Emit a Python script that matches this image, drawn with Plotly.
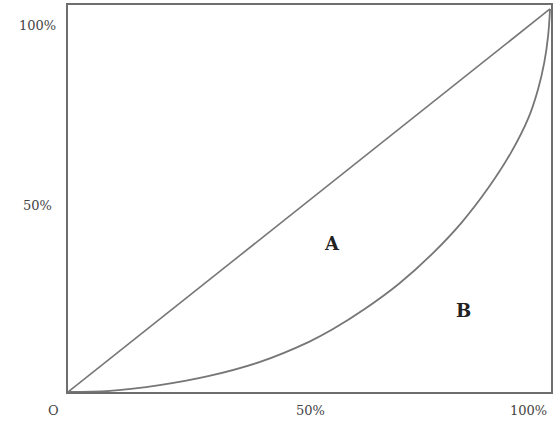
import plotly.graph_objects as go

# Lorenz curve (cumulative share of population vs cumulative share of income)
pop_share = [0, 0.087, 0.190, 0.293, 0.397, 0.500, 0.548, 0.617, 0.686, 0.755, 0.817,
             0.872, 0.919, 0.955, 0.975, 0.988, 0.996, 1.0]
income_share = [0, 0.003, 0.018, 0.042, 0.078, 0.131, 0.163, 0.218, 0.282, 0.360, 0.443,
                0.533, 0.625, 0.715, 0.790, 0.860, 0.930, 1.0]

# Line of equality
eq_x = [0, 1]
eq_y = [0, 1]

# Axis labels (paper coordinates)
y_tick_labels = ["100%", "50%"]
y_tick_pos = [0.948, 0.483]
x_tick_labels = ["O", "50%", "100%"]
x_tick_pos = [-0.029, 0.503, 0.953]

# Region labels
region_labels = ["A", "B"]
region_x = [0.548, 0.820]
region_y = [0.389, 0.214]

fig = go.Figure()
fig.add_trace(go.Scatter(x=eq_x, y=eq_y, mode="lines",
                         line=dict(color="#767676", width=1.6), showlegend=False, hoverinfo="skip"))
fig.add_trace(go.Scatter(x=pop_share, y=income_share, mode="lines", line_shape="spline",
                         line=dict(color="#767676", width=1.8, smoothing=1.0),
                         showlegend=False, hoverinfo="skip"))

serif = "DejaVu Serif, Liberation Serif, serif"
annotations = []
for t, yv in zip(y_tick_labels, y_tick_pos):
    annotations.append(dict(x=-0.063, y=yv, xref="paper", yref="paper", text=t, showarrow=False,
                            xanchor="center", yanchor="middle",
                            font=dict(family=serif, size=13, color="#444")))
for t, xv in zip(x_tick_labels, x_tick_pos):
    annotations.append(dict(x=xv, y=-0.047, xref="paper", yref="paper", text=t, showarrow=False,
                            xanchor="center", yanchor="middle",
                            font=dict(family=serif, size=13, color="#444")))
for t, xv, yv in zip(region_labels, region_x, region_y):
    annotations.append(dict(x=xv, y=yv, xref="x", yref="y", text="<b>" + t + "</b>", showarrow=False,
                            xanchor="center", yanchor="middle",
                            font=dict(family=serif, size=18, color="#222")))

fig.update_layout(
    width=555, height=423,
    margin=dict(l=68, r=2, t=5, b=31),
    paper_bgcolor="white", plot_bgcolor="white",
    annotations=annotations,
    xaxis=dict(range=[0, 1.002], showgrid=False, zeroline=False, showticklabels=False, ticks="",
               showline=True, mirror=True, linecolor="#6e6e6e", linewidth=2),
    yaxis=dict(range=[0, 1.0104], showgrid=False, zeroline=False, showticklabels=False, ticks="",
               showline=True, mirror=True, linecolor="#6e6e6e", linewidth=2),
)

fig.write_html("out.html", config={"displayModeBar": False})

# remove default page margins so the figure fills the window exactly
with open("out.html", "r", encoding="utf-8") as f:
    html = f.read()
html = html.replace("<head>", "<head><style>html,body{margin:0;padding:0;overflow:hidden;}</style>", 1)
with open("out.html", "w", encoding="utf-8") as f:
    f.write(html)
